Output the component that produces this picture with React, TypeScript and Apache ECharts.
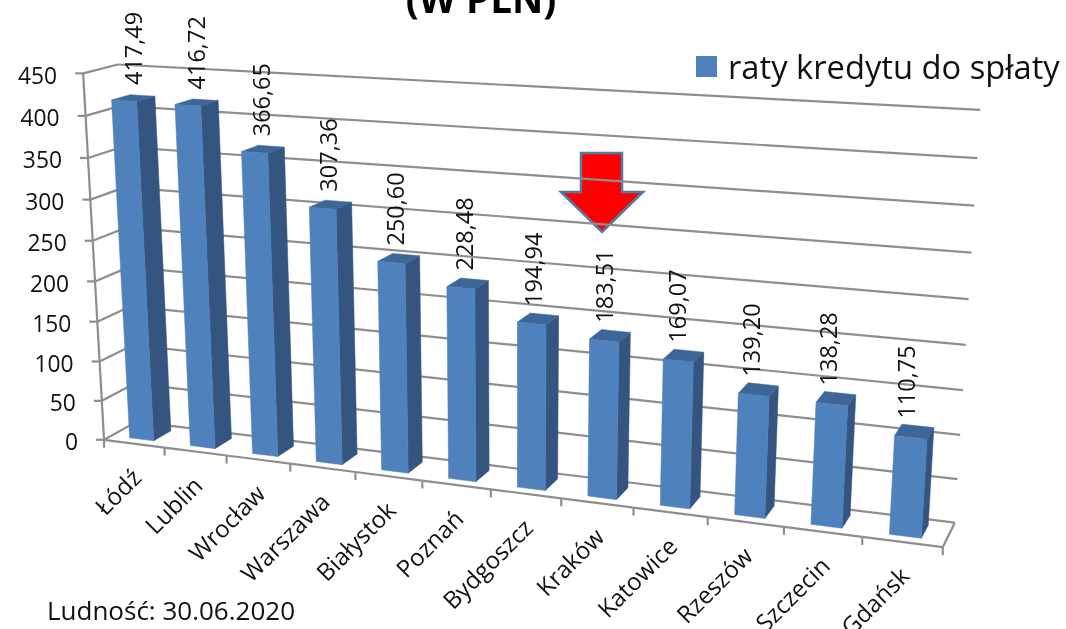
import React, { useEffect, useRef } from "react";
import * as echarts from "echarts";

const categories = ["Łódź", "Lublin", "Wrocław", "Warszawa", "Białystok", "Poznań", "Bydgoszcz", "Kraków", "Katowice", "Rzeszów", "Szczecin", "Gdańsk"];
const seriesName = "raty kredytu do spłaty";
const values = [417.49, 416.72, 366.65, 307.36, 250.6, 228.48, 194.94, 183.51, 169.07, 139.2, 138.28, 110.75];
const yTicks = [0, 50, 100, 150, 200, 250, 300, 350, 400, 450];
const titleText = "(W PLN)";
const footnote = "Ludność: 30.06.2020";

const FONT = "Open Sans";
const TEXT = "#111111";
const LINE = "#8e8e8e";
const FRONT = "#4F81BD";
const SIDE = "#34557F";
const TOP = "#3D6798";
const YMAX = 450;
const N = categories.length;

// The chart's oblique 3D view: control points [slot, depth, value, screenX, screenY]
const viewPoints = [
  [0, 0, 0, 105, 440], [1, 0, 0, 164, 449], [9, 0, 0, 706, 519], [12, 0, 0, 942, 550],
  [0, 1, 0, 133, 423], [12, 1, 0, 955, 522], [0, 0, 450, 80, 74], [0, 0, 200, 92, 282],
  [0, 1, 450, 120, 65], [12, 1, 450, 980, 110], [12, 1, 150, 963, 390],
  [0.3, 0.23, 417.49, 113, 100], [0.7, 0.23, 417.49, 138, 100],
  [0.3, 0.23, 0, 132, 437], [0.7, 0.23, 0, 155, 439], [1.3, 0.23, 0, 193, 443], [0.7, 0.77, 0, 170, 432],
  [11.3, 0.23, 110.75, 895, 435], [11.3, 0.23, 0, 890, 533], [11.7, 0.23, 0, 922, 537],
];

function solve(A: number[][], b: number[]) {
  const n = b.length;
  const M = A.map((r, i) => [...r, b[i]]);
  for (let c = 0; c < n; c++) {
    let p = c;
    for (let r = c + 1; r < n; r++) if (Math.abs(M[r][c]) > Math.abs(M[p][c])) p = r;
    [M[c], M[p]] = [M[p], M[c]];
    for (let r = 0; r < n; r++) {
      if (r === c) continue;
      const f = M[r][c] / M[c][c];
      for (let k = c; k <= n; k++) M[r][k] -= f * M[c][k];
    }
  }
  return M.map((r, i) => r[n] / r[i]);
}

function fitView() {
  const rows: number[][] = [];
  const rhs: number[] = [];
  viewPoints.forEach(([u0, d, v0, sx, sy]) => {
    const u = u0 / N;
    const v = v0 / YMAX;
    rows.push([1, u, d, v, 0, 0, 0, 0, -sx * u, -sx * d, -sx * v]);
    rhs.push(sx);
    rows.push([0, 0, 0, 0, 1, u, d, v, -sy * u, -sy * d, -sy * v]);
    rhs.push(sy);
  });
  const ATA = Array.from({ length: 11 }, (_, i) =>
    Array.from({ length: 11 }, (_, j) => rows.reduce((s, r) => s + r[i] * r[j], 0)));
  const ATb = Array.from({ length: 11 }, (_, i) => rows.reduce((s, r, k) => s + r[i] * rhs[k], 0));
  return solve(ATA, ATb);
}
const view = fitView();

// slot position u (in category bands), depth d (0 front, 1 back), v (0..1 of the value axis)
function project(u0: number, d: number, v: number) {
  const u = u0 / N;
  const w = 1 + view[8] * u + view[9] * d + view[10] * v;
  return [
    (view[0] + view[1] * u + view[2] * d + view[3] * v) / w,
    (view[4] + view[5] * u + view[6] * d + view[7] * v) / w,
  ];
}

// Goes through the library's scales, then through the oblique view
function scaled(params: any, api: any, idx: number, value: number) {
  const cs = params.coordSys;
  const c = api.coord([idx, value]);
  const band = api.size([1, 0])[0];
  return { u: (c[0] - cs.x) / band, v: (cs.y + cs.height - c[1]) / cs.height };
}

const lineEl = (a: number[], b: number[], width = 2.2) => ({
  type: "line",
  shape: { x1: a[0], y1: a[1], x2: b[0], y2: b[1] },
  style: { stroke: LINE, lineWidth: width },
  silent: true,
});

const textEl = (text: string, p: number[], size: number, align: string, rotation = 0) => ({
  type: "text",
  x: p[0],
  y: p[1],
  rotation,
  silent: true,
  style: { text, fill: TEXT, fontFamily: FONT, fontSize: size, align, verticalAlign: "middle" },
});

const face = (pts: number[][], fill: string) => ({
  type: "polygon",
  shape: { points: pts },
  style: { fill, stroke: fill, lineWidth: 0.5 },
});

function renderGridLine(params: any, api: any) {
  const value = api.value(1);
  const { u, v } = scaled(params, api, 0, value);
  const u0 = u - 0.5;
  const front = project(u0, 0, v);
  const backL = project(u0, 1, v);
  const backR = project(u0 + N, 1, v);
  return {
    type: "group",
    children: [
      lineEl(front, backL),
      lineEl(backL, backR),
      lineEl([front[0] - 8, front[1]], front),
      textEl(String(value), [front[0] - 26, front[1] + 2], 22.8, "right"),
    ],
  };
}

function renderFrame(params: any, api: any) {
  const idx = api.value(0);
  const { u, v } = scaled(params, api, idx, 0);
  const left = project(u - 0.5, 0, v);
  const mid = project(u, 0, v);
  const right = project(u + 0.5, 0, v);
  const children: any[] = [
    lineEl(left, right),
    lineEl(right, [right[0], right[1] + 8]),
    textEl(categories[idx], [mid[0] + 2, mid[1] + 29], 24, "right", Math.PI / 4),
  ];
  if (idx === 0) {
    const top = project(u - 0.5, 0, 1);
    children.push(lineEl(top, left), lineEl(left, [left[0], left[1] + 8]));
  }
  if (idx === N - 1) children.push(lineEl(right, project(u + 0.5, 1, v)));
  return { type: "group", children };
}

function renderBar(params: any, api: any) {
  const idx = api.value(0);
  const value = api.value(1);
  const { u, v } = scaled(params, api, idx, value);
  const base = scaled(params, api, idx, 0).v;
  const u1 = u - 0.2;
  const u2 = u + 0.2;
  const d1 = 0.23;
  const d2 = 0.77;
  const P = (a: number, d: number, h: number) => project(a, d, h);
  const top = project(u, 0.5, v);
  return {
    type: "group",
    children: [
      face([P(u2, d1, base), P(u2, d2, base), P(u2, d2, v), P(u2, d1, v)], SIDE),
      face([P(u1, d1, v), P(u2, d1, v), P(u2, d2, v), P(u1, d2, v)], TOP),
      face([P(u1, d1, base), P(u2, d1, base), P(u2, d1, v), P(u1, d1, v)], FRONT),
      textEl(value.toFixed(2).replace(".", ","), [top[0] - (9 * u) / N, top[1] - 13], 23.5, "left", Math.PI / 2),
    ],
  };
}

export default function App() {
  const ref = useRef<HTMLDivElement>(null);
  useEffect(() => {
    if (!ref.current) return;
    const chart = echarts.init(ref.current, undefined, { renderer: "svg" });
    chart.setOption({
      animation: false,
      backgroundColor: "#ffffff",
      color: [FRONT],
      title: {
        text: titleText,
        left: 476,
        top: -27,
        textAlign: "center",
        textStyle: { fontFamily: FONT, fontWeight: "bold", fontSize: 38.5, color: "#000" },
      },
      legend: {
        data: [{ name: seriesName, icon: "rect", itemStyle: { color: FRONT } }],
        left: 691,
        top: 45,
        itemWidth: 21,
        itemHeight: 21,
        itemGap: 0,
        selectedMode: false,
        textStyle: { fontFamily: FONT, fontSize: 32.7, color: TEXT, padding: [0, 0, 0, 6] },
      },
      grid: { left: 105, top: 74, width: 837, height: 366 },
      xAxis: { type: "category", data: categories, show: false },
      yAxis: { type: "value", min: 0, max: YMAX, interval: 50, show: false },
      graphic: [
        {
          type: "polygon",
          silent: true,
          shape: {
            points: [[581, 153], [622, 153], [622, 192], [643, 192], [602, 232], [561, 192], [581, 192]],
          },
          style: { fill: "#FF0000", stroke: "#4F7BA8", lineWidth: 2.5 },
        },
        {
          type: "text",
          x: 47,
          y: 610,
          silent: true,
          style: { text: footnote, fill: TEXT, fontFamily: FONT, fontSize: 26, verticalAlign: "middle" },
        },
      ],
      series: [
        {
          type: "custom",
          name: "siatka",
          silent: true,
          encode: { x: 0, y: 1 },
          data: yTicks.map((t) => [0, t]),
          renderItem: renderGridLine,
        },
        {
          type: "custom",
          name: "oś",
          silent: true,
          encode: { x: 0, y: 1 },
          data: categories.map((_, i) => [i, 0]),
          renderItem: renderFrame,
        },
        {
          type: "custom",
          name: seriesName,
          silent: true,
          itemStyle: { color: FRONT },
          encode: { x: 0, y: 1 },
          data: values.map((v, i) => [i, v]),
          renderItem: renderBar,
        },
      ],
    });
    return () => chart.dispose();
  }, []);
  return (
    <div
      ref={ref}
      style={{ position: "absolute", left: 0, top: 0, width: 1066, height: 629, filter: "blur(0.4px)" }}
    />
  );
}
